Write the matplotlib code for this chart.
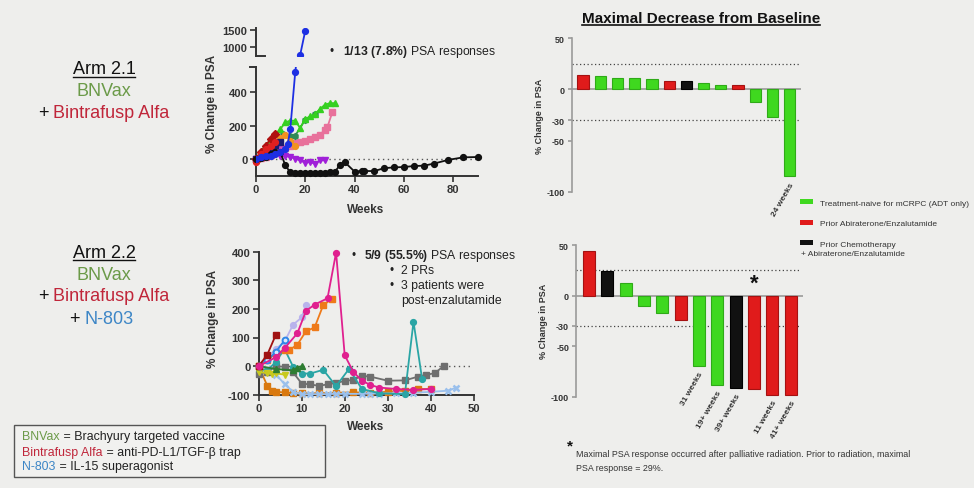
import matplotlib
matplotlib.use("Agg")
import matplotlib.pyplot as plt
from matplotlib.lines import Line2D
from matplotlib.patches import Patch, Rectangle

plt.rcParams['font.family'] = ['Liberation Sans', 'DejaVu Sans']
plt.rcParams['mathtext.fontset'] = 'custom'
plt.rcParams['mathtext.rm'] = 'Liberation Sans'
plt.rcParams['mathtext.bf'] = 'Liberation Sans:bold'
plt.rcParams['axes.unicode_minus'] = False

BG = '#eeeeec'
AX = '#333333'
GREEN_TXT = '#6b9a48'
RED_TXT = '#c0263a'
BLUE_TXT = '#3d86c6'

# ---------------- Arm 2.1 spaghetti data (weeks, % change) ----------------
a1_blue_wk = [0, 2, 4, 6, 8, 10, 12, 13, 14, 16, 18, 20]
a1_blue = [0, 10, 20, 20, 30, 45, 60, 90, 180, 520, 770, 1450]
a1_black_wk = [0, 2, 4, 6, 8, 10, 12, 14, 16, 18, 20, 22, 24, 26, 28, 30, 32, 34, 36,
               40, 43, 44, 48, 52, 56, 60, 64, 68, 72, 78, 84, 90]
a1_black = [0, 5, 15, 30, 45, 40, -38, -80, -82, -82, -82, -82, -82, -82, -82, -80, -78,
            -38, -18, -75, -72, -72, -72, -55, -50, -48, -42, -40, -28, -5, 10, 12]
a1_purple_wk = [0, 2, 4, 6, 8, 10, 12, 14, 16, 18, 20, 22, 24, 26, 28]
a1_purple = [0, 10, 20, 25, 30, 18, 18, 12, 2, -8, -22, -18, -28, -8, -8]
a1_green_wk = [0, 2, 4, 6, 8, 10, 12, 14, 16, 18, 20, 22, 24, 26, 28, 30, 32]
a1_green = [0, 40, 85, 110, 150, 180, 220, 230, 230, 185, 240, 255, 270, 300, 325, 335, 335]
a1_dkgreen_wk = [0, 4, 8, 11, 14, 16, 20, 24]
a1_dkgreen = [0, 40, 100, 150, 140, 140, 235, 270]
a1_pink_wk = [0, 2, 4, 6, 8, 10, 12, 14, 16, 18, 20, 22, 24, 26, 28, 29, 31]
a1_pink = [0, 5, 15, 25, 40, 55, 65, 80, 95, 100, 110, 120, 130, 145, 175, 190, 280]
a1_orange_wk = [0, 2, 4, 6, 8, 10, 12, 14, 16]
a1_orange = [0, 20, 45, 70, 100, 125, 145, 110, 80]
a1_dkred_wk = [0, 2, 4, 6, 8]
a1_dkred = [0, 40, 80, 120, 150]
a1_red_wk = [0, 1, 2, 4, 6, 8]
a1_red = [-20, 0, 30, 60, 80, 100]
a1_navy_wk = [0, 2, 4, 6, 8, 10]
a1_navy = [0, 20, 40, 60, 85, 100]
a1_mag_wk = [0, 2, 4, 6, 8, 10]
a1_mag = [0, 15, 35, 50, 60, 70]

arm1_series = [
    (a1_pink_wk, a1_pink, '#e8719b', 's'),
    (a1_dkgreen_wk, a1_dkgreen, '#2e8b57', 'h'),
    (a1_green_wk, a1_green, '#35d021', '^'),
    (a1_orange_wk, a1_orange, '#f2921f', 'o'),
    (a1_purple_wk, a1_purple, '#a020d8', 'v'),
    (a1_mag_wk, a1_mag, '#d050c0', 'o'),
    (a1_navy_wk, a1_navy, '#1b1b70', 's'),
    (a1_dkred_wk, a1_dkred, '#b01010', 'D'),
    (a1_red_wk, a1_red, '#e02020', 'o'),
    (a1_black_wk, a1_black, '#111111', 'o'),
]

# ---------------- Arm 2.2 spaghetti data ----------------
a2_magenta_wk = [0, 4, 6, 9, 11, 13, 16, 18, 20, 22, 24, 26, 28, 32, 36, 40]
a2_magenta = [0, 31, 62, 115, 193, 215, 237, 397, 38, -20, -51, -66, -75, -80, -83, -80]
a2_orange_wk = [0, 2, 4, 6, 7, 9, 11, 13, 15, 17]
a2_orange = [0, 20, 45, 55, 55, 75, 122, 135, 213, 235]
a2_lav_wk = [0, 2, 4, 6, 8, 10, 11]
a2_lav = [0, 30, 60, 85, 145, 170, 215]
a2_blue_wk = [0, 2, 4, 6]
a2_blue = [0, 20, 50, 90]
a2_dkred_wk = [0, 2, 4]
a2_dkred = [0, 40, 110]
a2_teal_wk = [0, 2, 4, 6, 8, 10, 12, 15, 18, 21, 24, 28, 34, 36, 38]
a2_teal = [-10, -15, 15, 60, -2, -26, -26, -13, -70, -10, -80, -95, -98, 155, -45]
a2_gray_wk = [0, 2, 4, 6, 8, 10, 12, 14, 16, 18, 20, 22, 24, 26, 30, 34, 37, 39, 41, 43]
a2_gray = [-28, -20, -1, -2, -22, -61, -64, -69, -64, -59, -52, -48, -34, -37, -51, -50, -37, -31, -24, 0]
a2_dkorange_wk = [0, 2, 3, 4, 6, 8, 10, 14, 18, 22, 26, 30, 34, 37, 40]
a2_dkorange = [0, -69, -86, -90, -92, -95, -95, -95, -93, -92, -93, -90, -86, -80, -80]
a2_ltblue_wk = [0, 2, 4, 6, 8, 10, 12, 14, 16, 18, 20, 24, 26, 28, 32, 36, 40, 44, 46]
a2_ltblue = [0, -10, -30, -62, -90, -99, -98, -98, -98, -97, -97, -97, -96, -96, -95, -93, -90, -86, -75]
a2_yellow_wk = [0, 2, 3, 4, 6]
a2_yellow = [-20, -25, -28, -25, -30]
a2_dkgreen_wk = [0, 4, 8, 9, 10]
a2_dkgreen = [0, -10, -15, -5, 0]

arm2_series = [
    (a2_dkorange_wk, a2_dkorange, '#d9790f', 's', None),
    (a2_ltblue_wk, a2_ltblue, '#9ac0ec', 'x', None),
    (a2_gray_wk, a2_gray, '#6f6f6f', 's', None),
    (a2_teal_wk, a2_teal, '#2aa5a5', 'o', None),
    (a2_yellow_wk, a2_yellow, '#c8c81e', 'v', None),
    (a2_dkgreen_wk, a2_dkgreen, '#2e7d32', '^', None),
    (a2_lav_wk, a2_lav, '#b9b3ec', 'o', None),
    (a2_orange_wk, a2_orange, '#ee7a1a', 's', None),
    (a2_blue_wk, a2_blue, '#2f86e8', 'o', '#d8e8ff'),
    (a2_dkred_wk, a2_dkred, '#a01212', 's', None),
    (a2_magenta_wk, a2_magenta, '#e0208f', 'o', None),
]

# ---------------- waterfall data ----------------
top_vals = [14, 13, 11, 11, 10, 8, 8, 6, 4, 4, -12, -27, -85]
top_groups = ['abi', 'naive', 'naive', 'naive', 'naive', 'abi', 'chemo', 'naive', 'naive',
              'abi', 'naive', 'naive', 'naive']
top_week_labels = {12: '24 weeks'}
bot_vals = [44, 24, 12, -10, -17, -24, -70, -88, -91, -92, -98, -98]
bot_groups = ['abi', 'chemo', 'naive', 'naive', 'naive', 'abi', 'naive', 'naive', 'chemo',
              'abi', 'abi', 'abi']
bot_week_labels = {6: '31 weeks', 7: '19+ weeks', 8: '39+ weeks', 10: '11 weeks', 11: '41+ weeks'}
bot_star = 9
wf_ticks = [50, 0, -30, -50, -100]
group_colors = {'naive': '#3fd81f', 'abi': '#e01b1b', 'chemo': '#111111'}
group_edges = {'naive': '#2faa18', 'abi': '#a51212', 'chemo': '#000000'}
legend_labels = {'naive': 'Treatment-naive for mCRPC (ADT only)',
                 'abi': 'Prior Abiraterone/Enzalutamide',
                 'chemo': 'Prior Chemotherapy'}

W, H = 974, 489
fig = plt.figure(figsize=(W / 100, H / 100), dpi=100, facecolor=BG)


def rect(x0, y0, x1, y1):
    # pixel box (top-left origin) -> figure fraction
    return [x0 / W, 1 - y1 / H, (x1 - x0) / W, (y1 - y0) / H]


def fx(px):
    return px / W


def fy(py):
    return 1 - py / H


def style_axis(ax, size=8):
    ax.set_facecolor('none')
    for s in ['top', 'right']:
        ax.spines[s].set_visible(False)
    for s in ['left', 'bottom']:
        ax.spines[s].set_color(AX)
        ax.spines[s].set_linewidth(1.4)
    ax.tick_params(direction='out', length=4, width=1.2, color=AX, labelcolor=AX,
                   labelsize=size, pad=2)
    for lab in ax.get_xticklabels() + ax.get_yticklabels():
        lab.set_fontweight('bold')


# ---------------- Arm 2.1 line chart (broken y axis) ----------------
ax1 = fig.add_axes(rect(255.7, 68.3, 478, 176.7))
ax1u = fig.add_axes(rect(255.7, 29, 478, 56.7))
for wk, vals, col, mk in arm1_series:
    ax1.plot(wk, vals, color=col, marker=mk, ms=4.2, lw=1.3, clip_on=False, zorder=3)
for a in (ax1, ax1u):
    a.plot(a1_blue_wk, a1_blue, color='#1d2fe3', marker='o', ms=4.2, lw=1.3, zorder=4)
ax1.axhline(0, color='#555555', lw=1, ls=(0, (1, 2.5)), zorder=1)
ax1.set_xlim(0, 90)
ax1.set_ylim(-100, 550)
ax1.set_xticks([0, 20, 40, 60, 80])
ax1.set_yticks([0, 200, 400])
style_axis(ax1)
ax1u.set_xlim(0, 90)
ax1u.set_ylim(750, 1550)
ax1u.set_yticks([1000, 1500])
ax1u.set_xticks([])
style_axis(ax1u)
ax1u.spines['bottom'].set_visible(False)
ax1u.plot([0, 0.04], [0, 0], transform=ax1u.transAxes, color=AX, lw=1.4, clip_on=False)
ax1.plot([-0.025, 0], [1, 1], transform=ax1.transAxes, color=AX, lw=1.4, clip_on=False)
fig.text(fx(366), fy(210), 'Weeks', ha='center', va='center', fontsize=8.5,
         fontweight='bold', color=AX)
fig.text(fx(212), fy(104), '% Change in PSA', ha='center', va='center', fontsize=8.5,
         fontweight='bold', color=AX, rotation=90)
fig.text(fx(330), fy(52), '\u2022', ha='left', va='center', fontsize=8.5, color='#222222')
fig.text(fx(343), fy(52), r'$\mathbf{1/13\ (7.8\%)}$ PSA responses', ha='left',
         va='center', fontsize=8.8, color='#222222')

# ---------------- Arm 2.2 line chart ----------------
ax2 = fig.add_axes(rect(258.7, 252.7, 473.7, 395.7))
for wk, vals, col, mk, mfc in arm2_series:
    kw = dict(color=col, marker=mk, ms=4.2, lw=1.3, clip_on=False, zorder=3)
    if mfc is not None:
        kw.update(mfc=mfc, mew=1.4)
    if mk == 'x':
        kw.update(mew=1.8, ms=5)
    ax2.plot(wk, vals, **kw)
ax2.axhline(0, xmax=0.99, color='#555555', lw=1, ls=(0, (1, 2.5)), zorder=1)
ax2.set_xlim(0, 50)
ax2.set_ylim(-100, 400)
ax2.set_xticks([0, 10, 20, 30, 40, 50])
ax2.set_yticks([-100, 0, 100, 200, 300, 400])
style_axis(ax2)
fig.text(fx(366), fy(427), 'Weeks', ha='center', va='center', fontsize=8.5,
         fontweight='bold', color=AX)
fig.text(fx(213), fy(319), '% Change in PSA', ha='center', va='center', fontsize=8.5,
         fontweight='bold', color=AX, rotation=90)
fig.text(fx(352), fy(256), '\u2022', ha='left', va='center', fontsize=8.5, color='#222222')
fig.text(fx(364), fy(256), r'$\mathbf{5/9\ (55.5\%)}$ PSA responses', ha='left',
         va='center', fontsize=8.8, color='#222222')
for txt, yy in [('2 PRs', 270.7), ('3 patients were', 285.5), ('post-enzalutamide', 300.7)]:
    if txt != 'post-enzalutamide':
        fig.text(fx(390), fy(yy), '\u2022', ha='left', va='center', fontsize=8.5,
                 color='#222222')
    fig.text(fx(401), fy(yy), txt, ha='left', va='center', fontsize=8.8, color='#222222')


# ---------------- waterfall charts ----------------
def waterfall(box, vals, groups, xlim, week_labels):
    ax = fig.add_axes(rect(*box))
    xs = list(range(len(vals)))
    ax.bar(xs, vals, width=0.65, color=[group_colors[g] for g in groups],
           edgecolor=[group_edges[g] for g in groups], linewidth=0.8, zorder=3)
    ax.axhline(0, color='#9a9a9a', lw=1.2, zorder=2)
    for yv in (25, -30):
        ax.axhline(yv, xmax=0.99, color='#444444', lw=0.9, ls=(0, (1, 2)), zorder=1)
    ax.set_xlim(*xlim)
    ax.set_ylim(-100, 50)
    ax.set_yticks(wf_ticks)
    ax.set_xticks([])
    style_axis(ax, size=6.5)
    ax.spines['left'].set_color('#9a9a9a')
    ax.spines['left'].set_linewidth(1.2)
    ax.tick_params(axis='y', color='#9a9a9a', length=3)
    ax.spines['bottom'].set_visible(False)
    for i, lab in week_labels.items():
        ax.text(i + 0.15, vals[i] - 6, lab, rotation=60, rotation_mode='anchor',
                ha='right', va='center', fontsize=6, fontweight='bold', color='#333333')
    ax.set_ylabel('% Change in PSA', fontsize=6.5, fontweight='bold', color=AX, labelpad=2)
    return ax


axw1 = waterfall((571.7, 39.3, 801, 192.7), top_vals, top_groups, (-0.66, 12.66),
                 top_week_labels)
axw2 = waterfall((576, 246, 802.7, 397.7), bot_vals, bot_groups, (-0.71, 11.65),
                 bot_week_labels)
axw2.text(bot_star, 2, '*', ha='center', va='bottom', fontsize=16, fontweight='bold',
          color='#111111')

handles = [Patch(facecolor=group_colors[g], edgecolor='none', label=legend_labels[g])
           for g in ['naive', 'abi', 'chemo']]
fig.legend(handles=handles, loc='upper left', bbox_to_anchor=(fx(800), fy(200)),
           frameon=False, fontsize=6, handlelength=1.5, handleheight=0.6,
           handletextpad=0.9, labelspacing=1.55, borderpad=0, borderaxespad=0,
           labelcolor='#333333')
fig.text(fx(801), fy(254), '+ Abiraterone/Enzalutamide', ha='left', va='center',
         fontsize=6, color='#333333')

title = fig.text(fx(701), fy(19), 'Maximal Decrease from Baseline', ha='center',
                 va='center', fontsize=11, fontweight='bold', color='#111111')

# footnote
fig.text(fx(567), fy(446), '*', ha='left', va='center', fontsize=11, fontweight='bold',
         color='#111111')
fig.text(fx(576), fy(450), 'Maximal PSA response occurred after palliative radiation. '
         'Prior to radiation, maximal\nPSA response = 29%.', ha='left', va='top',
         fontsize=6.4, color='#333333', linespacing=1.7)

# ---------------- arm labels ----------------
arm_txts = []
for y0, name, lines in [(70, 'Arm 2.1', [('BNVax', GREEN_TXT, 91.7)]),
                        (253.3, 'Arm 2.2', [('BNVax', GREEN_TXT, 275)])]:
    arm_txts.append(fig.text(fx(104), fy(y0), name, ha='center', va='center', fontsize=13,
                             color='#111111'))
    for t, c, yy in lines:
        fig.text(fx(104), fy(yy), t, ha='center', va='center', fontsize=13, color=c)
for yy in (113, 296.7):
    fig.text(fx(39), fy(yy), '+ ', ha='left', va='center', fontsize=13, color='#111111')
    fig.text(fx(53), fy(yy), 'Bintrafusp Alfa', ha='left', va='center', fontsize=13,
             color=RED_TXT)
fig.text(fx(70), fy(320), '+ ', ha='left', va='center', fontsize=13, color='#111111')
fig.text(fx(84), fy(320), 'N-803', ha='left', va='center', fontsize=13, color=BLUE_TXT)

# definitions box
fig.add_artist(Rectangle((fx(14.3), fy(478)), fx(325) - fx(14.3), fy(425.7) - fy(478),
                         transform=fig.transFigure, facecolor='#f1f1ef',
                         edgecolor='#555555', lw=1))
for yy, a, c, b in [(437, 'BNVax', GREEN_TXT, ' = Brachyury targeted vaccine'),
                    (452.7, 'Bintrafusp Alfa', RED_TXT, ' = anti-PD-L1/TGF-\u03b2 trap'),
                    (466.7, 'N-803', BLUE_TXT, ' = IL-15 superagonist')]:
    t1 = fig.text(fx(22.3), fy(yy), a, ha='left', va='center', fontsize=8.9, color=c)
    arm_txts.append((t1, b, yy))

fig.canvas.draw()
r = fig.canvas.get_renderer()
inv = fig.transFigure.inverted()
for item in arm_txts:
    if isinstance(item, tuple):
        t1, b, yy = item
        bb = t1.get_window_extent(r).transformed(inv)
        fig.text(bb.x1, fy(yy), b, ha='left', va='center', fontsize=8.9, color='#222222')
    else:
        bb = item.get_window_extent(r).transformed(inv)
        fig.add_artist(Line2D([bb.x0, bb.x1], [bb.y0 + 0.002, bb.y0 + 0.002],
                              transform=fig.transFigure, color='#111111', lw=1))
bb = title.get_window_extent(r).transformed(inv)
fig.add_artist(Line2D([bb.x0, bb.x1], [bb.y0 + 0.001, bb.y0 + 0.001],
                      transform=fig.transFigure, color='#111111', lw=1.2))

fig.savefig('out.png', dpi=100, facecolor=BG)
